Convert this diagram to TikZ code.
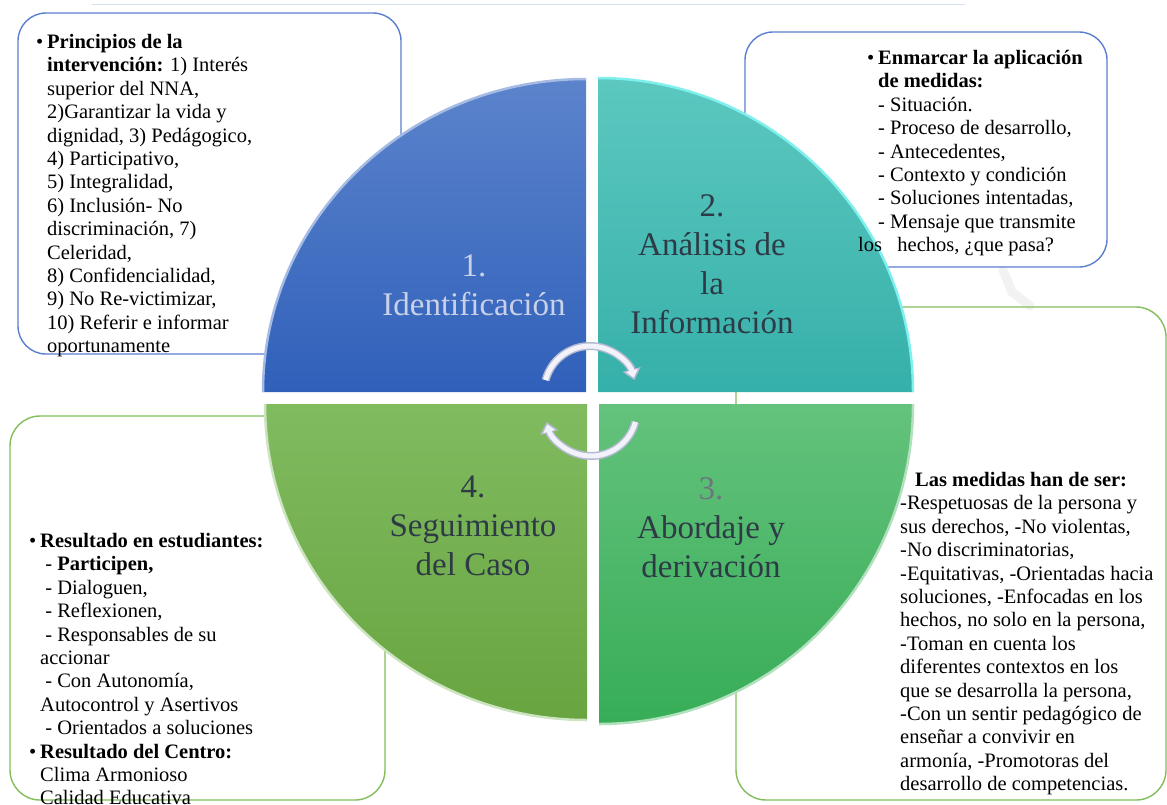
\documentclass[tikz,border=0pt]{standalone}
\usepackage{fontspec}
\setmainfont{Liberation Serif}
\usetikzlibrary{arrows.meta}
\definecolor{bxblue}{HTML}{5B7FD0}
\definecolor{bxgreen}{HTML}{84BD5C}
\definecolor{q1a}{HTML}{5C84CC}
\definecolor{q1b}{HTML}{3060BA}
\definecolor{q2a}{HTML}{5CC8BF}
\definecolor{q2b}{HTML}{36B0AA}
\definecolor{q3a}{HTML}{64C27C}
\definecolor{q3b}{HTML}{37AD57}
\definecolor{q4a}{HTML}{80BB60}
\definecolor{q4b}{HTML}{68A540}
\definecolor{qtxt}{HTML}{2E3B47}
\definecolor{q1txt}{HTML}{C9D1E8}
\definecolor{arrout}{HTML}{B4B9D2}
\definecolor{arrin}{HTML}{F2F3FA}
\tikzset{
  boxb/.style={draw=bxblue, line width=1.4pt, rounded corners=28pt, inner sep=0pt},
  boxg/.style={draw=bxgreen, line width=1.4pt, rounded corners=30pt, inner sep=0pt},
  btext/.style={anchor=north west, align=left, inner sep=0pt, text=black,
    font=\fontsize{20.5}{23.4}\selectfont},
  qtext/.style={align=center, inner sep=0pt, text=qtxt,
    font=\fontsize{33}{39}\selectfont},
  arrowo/.style={draw=arrout, line width=8pt, -{Triangle[length=11pt,width=18pt]}},
  arrowi/.style={draw=arrin, line width=5pt, -{Triangle[length=7.5pt,width=12pt]}, shorten >=2.5pt},
}
\begin{document}
\begin{tikzpicture}[x=1pt,y=-1pt]
\useasboundingbox (0,0) rectangle (1167,804);
\fill[white] (0,0) rectangle (1167,804);
% faint top line
\draw[color=bxblue!25, line width=1pt] (92,4) -- (965,4);
% watermark stroke
\draw[color=black!5, line width=9pt, line cap=round] (1003,270) -- (1012,292) -- (1030,306);
% boxes
\node[boxb, minimum width=383pt, minimum height=341pt] (box1) at (209.5,183.5) {};
\node[boxb, minimum width=362pt, minimum height=235pt] (box2) at (926,149.5) {};
\node[boxg, minimum width=430pt, minimum height=493pt] (box3) at (951,553.5) {};
\node[boxg, minimum width=375pt, minimum height=384pt] (box4) at (197.5,608) {};
% quadrants
\shade[top color=q1a, bottom color=q1b] (586,392) -- (263,392)
  arc[start angle=180, end angle=270, x radius=323, y radius=313] -- cycle;
\draw[color=q1a!55!white, line width=2.5pt] (263,392)
  arc[start angle=180, end angle=270, x radius=323, y radius=313];
\shade[top color=q2a, bottom color=q2b] (598,392) -- (598,78)
  arc[start angle=270, end angle=360, x radius=315, y radius=314] -- cycle;
\draw[color=q2a!45!cyan!60!white, line width=2.5pt] (598,78)
  arc[start angle=270, end angle=360, x radius=315, y radius=314];
\shade[top color=q4a, bottom color=q4b] (587,404) -- (587,720)
  arc[start angle=90, end angle=180, x radius=322, y radius=316] -- cycle;
\draw[color=q4a!40!white, line width=2.5pt] (587,720)
  arc[start angle=90, end angle=180, x radius=322, y radius=316];
\shade[top color=q3a, bottom color=q3b] (599,404) -- (913,404)
  arc[start angle=0, end angle=90, x radius=314, y radius=320] -- cycle;
\draw[color=q3a!50!white, line width=2.5pt] (913,404)
  arc[start angle=0, end angle=90, x radius=314, y radius=320];
% box texts
\node[btext] (t1) at (47,34) {\llap{\textbullet\hspace{4pt}}\textbf{Principios de la}\\
\textbf{intervención:} 1) Interés\\
superior del NNA,\\
2)Garantizar la vida y\\
dignidad, 3) Pedágogico,\\
4) Participativo,\\
5) Integralidad,\\
6) Inclusión- No\\
discriminación, 7)\\
Celeridad,\\
8) Confidencialidad,\\
9) No Re-victimizar,\\
10) Referir e informar\\
oportunamente};
\node[btext] (t2) at (878,50) {\llap{\textbullet\hspace{4pt}}\textbf{Enmarcar la aplicación}\\
\textbf{de medidas:}\\
- Situación.\\
- Proceso de desarrollo,\\
- Antecedentes,\\
- Contexto y condición\\
- Soluciones intentadas,\\
- Mensaje que transmite\\
\hspace*{-20pt}los\ \ \ hechos, ¿que pasa?};
\node[btext] (t3) at (900,472) {\hspace*{15pt}\textbf{Las medidas han de ser:}\\
-Respetuosas de la persona y\\
sus derechos, -No violentas,\\
-No discriminatorias,\\
-Equitativas, -Orientadas hacia\\
soluciones, -Enfocadas en los\\
hechos, no solo en la persona,\\
-Toman en cuenta los\\
diferentes contextos en los\\
que se desarrolla la persona,\\
-Con un sentir pedagógico de\\
enseñar a convivir en\\
armonía, -Promotoras del\\
desarrollo de competencias.};
\node[btext] (t4) at (40,533) {\llap{\textbullet\hspace{4pt}}\textbf{Resultado en estudiantes:}\\
\ - \textbf{Participen,}\\
\ - Dialoguen,\\
\ - Reflexionen,\\
\ - Responsables de su\\
accionar\\
\ - Con Autonomía,\\
Autocontrol y Asertivos\\
\ - Orientados a soluciones\\
\llap{\textbullet\hspace{4pt}}\textbf{Resultado del Centro:}\\
Clima Armonioso\\
Calidad Educativa};
% quadrant labels
\node[qtext, text=q1txt] (l1) at (474,285) {1.\\Identificación};
\node[qtext] (l2) at (712,264) {2.\\Análisis de\\la\\Información};
\node[qtext] (l3) at (711,528) {\textcolor{qtxt!70}{3.}\\Abordaje y\\derivación};
\node[qtext] (l4) at (473,526) {4.\\Seguimiento\\del Caso};
% cycle arrows
\draw[arrowo] (590,392) ++(195:46) arc[start angle=195, end angle=345, radius=46];
\draw[arrowi] (590,392) ++(195:46) arc[start angle=195, end angle=345, radius=46];
\draw[arrowo] (591,410) ++(15:46) arc[start angle=15, end angle=165, radius=46];
\draw[arrowi] (591,410) ++(15:46) arc[start angle=15, end angle=165, radius=46];
\end{tikzpicture}
\end{document}
